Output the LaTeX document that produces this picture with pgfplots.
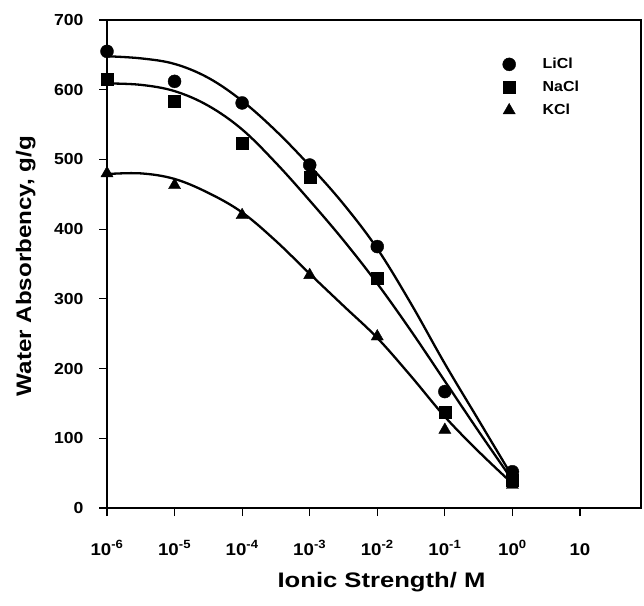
\documentclass[border=0pt]{standalone}
\usepackage{fontspec}
\setmainfont{Liberation Sans}
\newfontfamily\tf[FakeStretch=1.1]{Liberation Sans}
\newfontfamily\lf[FakeStretch=1.15]{Liberation Sans}
\newfontfamily\xf[FakeStretch=1.22]{Liberation Sans}
\usepackage{pgfplots}
\pgfplotsset{compat=1.18}
\begin{document}
\begin{tikzpicture}
\begin{axis}[
  scale only axis, width=534pt, height=488pt,
  xmode=log, xmin=1e-6, xmax=80, ymin=0, ymax=700,
  xtick={1e-6,1e-5,1e-4,1e-3,1e-2,1e-1,1,10},
  xticklabels={10\textsuperscript{-6},10\textsuperscript{-5},10\textsuperscript{-4},10\textsuperscript{-3},10\textsuperscript{-2},10\textsuperscript{-1},10\textsuperscript{0},10},
  xminorticks=false,
  ytick={0,100,200,300,400,500,600,700},
  /pgf/number format/assume math mode=true,
  tick align=outside, xtick pos=bottom, ytick pos=left,
  major tick length=8pt,
  major tick style={line width=1.2pt, black},
  axis line style={line width=1.3pt},
  ticklabel style={font=\tf\bfseries\fontsize{16}{18}\selectfont},
  xticklabel style={anchor=base, yshift=-39pt, font=\tf\bfseries\fontsize{17}{19}\selectfont},
  yticklabel style={anchor=east, xshift=-12pt},
  xlabel={Ionic Strength/ M},
  ylabel={Water Absorbency, g/g},
  xlabel style={font=\xf\bfseries\fontsize{21}{24}\selectfont, at={(axis description cs:0.514,-0.162)}, anchor=base},
  ylabel style={font=\lf\bfseries\fontsize{21}{24}\selectfont, at={(axis description cs:-0.152,0.496)}, anchor=center},
  clip=false,
  legend style={draw=none, fill=none, at={(axis description cs:0.735,0.93)}, anchor=north west,
    font=\tf\bfseries\fontsize{14.5}{16}\selectfont, row sep=7pt, column sep=25pt},
  legend cell align=left,
]
% fitted curves
\addplot[black, line width=2.3pt, smooth, tension=0.6, forget plot] coordinates {
 (1e-6,648) (3.162e-6,645) (1e-5,637) (3.162e-5,617) (1e-4,584) (3.162e-4,541) (1e-3,491) (3.162e-3,436) (1e-2,372) (3.162e-2,293) (1e-1,207) (3.162e-1,126) (1,45)};
\addplot[black, line width=2.3pt, smooth, tension=0.6, forget plot] coordinates {
 (1e-6,609) (3.162e-6,607) (1e-5,598) (3.162e-5,577) (1e-4,543) (3.162e-4,495) (1e-3,441) (3.162e-3,384) (1e-2,322) (3.162e-2,254) (1e-1,182) (3.162e-1,110) (1,40)};
\addplot[black, line width=2.3pt, smooth, tension=0.6, forget plot] coordinates {
 (1e-6,479) (3.162e-6,480) (1e-5,472) (3.162e-5,452) (1e-4,424) (3.162e-4,383) (1e-3,336) (3.162e-3,290) (1e-2,244) (3.162e-2,189) (1e-1,131) (3.162e-1,81) (1,35)};
% data
\addplot[only marks, mark=*, mark size=6.5pt, black] coordinates {
 (1e-6,655) (1e-5,612) (1e-4,581) (1e-3,492) (1e-2,375) (1e-1,167) (1,52)};
\addlegendentry{LiCl}
\addplot[only marks, mark=square*, mark size=6pt, black] coordinates {
 (1e-6,615) (1e-5,584) (1e-4,524) (1e-3,475) (1e-2,330) (1e-1,137) (1,40)};
\addlegendentry{NaCl}
\addplot[only marks, mark=triangle*, mark size=7pt, black] coordinates {
 (1e-6,480) (1e-5,463) (1e-4,420) (1e-3,334) (1e-2,246) (1e-1,112) (1,33)};
\addlegendentry{KCl}
\end{axis}
\draw[line width=2.4pt] (current axis.north west) -- (current axis.south west) -- (current axis.south east);
\path (current axis.south west) ++(-107pt,-97pt) rectangle ++(644pt,605pt);
\end{tikzpicture}
\end{document}
